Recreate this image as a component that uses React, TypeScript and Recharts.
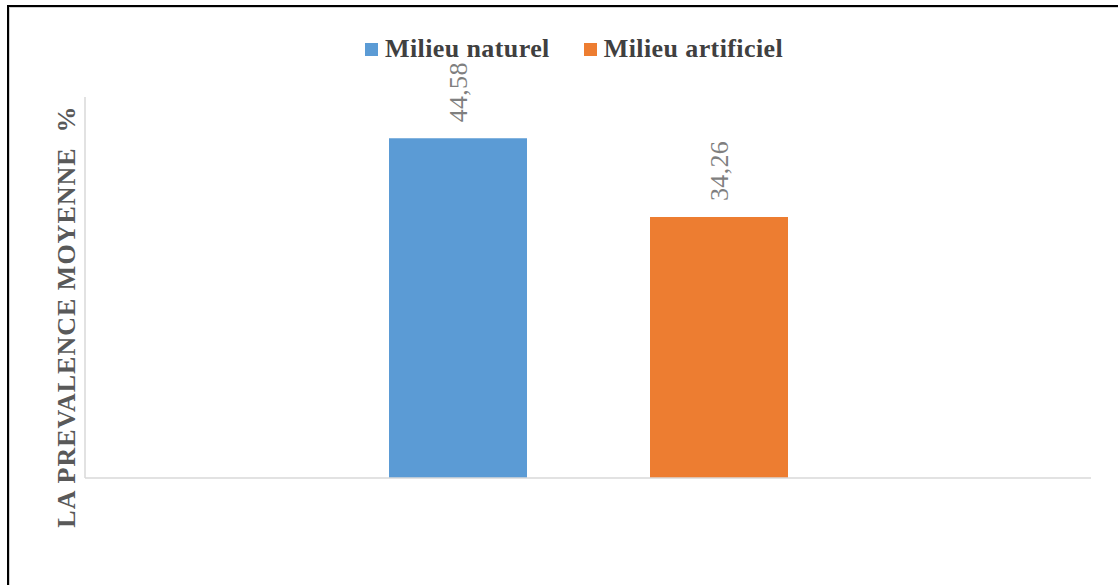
import React from 'react';
import { BarChart, Bar, XAxis, YAxis, LabelList } from 'recharts';

const categories = ['Prévalence moyenne'];
const seriesNames = ['Milieu naturel', 'Milieu artificiel'];
const seriesColors = ['#5b9bd5', '#ed7d31'];
const naturelValues = [44.58];
const artificielValues = [34.26];
const yDomain: [number, number] = [0, 50];

const SERIF = '"Liberation Serif", "Times New Roman", serif';
const GRID = '#d9d9d9';

const data = categories.map((c, i) => ({
  categorie: c,
  naturel: naturelValues[i],
  artificiel: artificielValues[i],
}));

const fmt = (v: number) => v.toFixed(2).replace('.', ',');

// vertical value label sitting above each bar, reading bottom-to-top
function renderValueLabel(props: any) {
  const { x, y, width, value } = props;
  const tx = Number(x) + Number(width) / 2 + 9;
  const ty = Number(y) - 16;
  return (
    <text
      x={tx}
      y={ty}
      transform={`rotate(-90, ${tx}, ${ty})`}
      textAnchor="start"
      style={{ fontFamily: SERIF, fontSize: 26, letterSpacing: 0.3 }}
      fill="#7f7f7f"
    >
      {fmt(Number(value))}
    </text>
  );
}

function renderYTitle(props: any) {
  const { viewBox } = props;
  const tx = viewBox.x + viewBox.width - 10;
  const ty = viewBox.y + viewBox.height / 2 + 29;
  return (
    <text
      x={tx}
      y={ty}
      transform={`rotate(-90, ${tx}, ${ty})`}
      textAnchor="middle"
      fill="#595959"
      style={{
        fontFamily: SERIF,
        fontWeight: 'bold',
        fontSize: 26,
        letterSpacing: 1,
        whiteSpace: 'pre',
      }}
    >
      {'LA PREVALENCE MOYENNE  %'}
    </text>
  );
}

export default function App() {
  return (
    <div
      style={{
        position: 'fixed',
        left: 0,
        top: 0,
        width: 1118,
        height: 585,
        background: '#fff',
        overflow: 'hidden',
        fontFamily: SERIF,
      }}
    >
      {/* outer frame, only top and left edges fall inside the view */}
      <div
        style={{
          position: 'absolute',
          left: 7,
          top: 5,
          width: 1300,
          height: 800,
          borderLeft: '2px solid #000',
          borderTop: '2px solid #000',
          boxShadow: 'inset 1px 1px 0 #d0d0d0',
        }}
      />

      <div
        style={{
          position: 'absolute',
          top: 34,
          left: 365,
          display: 'flex',
          alignItems: 'center',
          fontFamily: SERIF,
          fontWeight: 'bold',
          fontSize: 26,
          letterSpacing: 0.4,
          color: '#404040',
          whiteSpace: 'nowrap',
        }}
      >
        {seriesNames.map((name, i) => (
          <span
            key={name}
            style={{ display: 'flex', alignItems: 'center', marginRight: i === 0 ? 34 : 0 }}
          >
            <span
              style={{
                display: 'inline-block',
                width: 13,
                height: 13,
                background: seriesColors[i],
                marginRight: 7,
              }}
            />
            {name}
          </span>
        ))}
      </div>

      <div style={{ position: 'absolute', left: 0, top: 0 }}>
        <BarChart
          width={1118}
          height={585}
          data={data}
          margin={{ top: 97, right: 27, bottom: 77, left: 0 }}
          barSize={138}
          barGap={123}
        >
          <XAxis
            dataKey="categorie"
            tick={false}
            tickLine={false}
            axisLine={{ stroke: GRID, strokeWidth: 1.5 }}
            height={30}
          />
          <YAxis
            yAxisId="left"
            domain={yDomain}
            width={85}
            tick={false}
            tickLine={false}
            axisLine={{ stroke: GRID, strokeWidth: 1.5 }}
            label={renderYTitle}
          />
          <YAxis
            yAxisId="right"
            orientation="right"
            domain={yDomain}
            width={0}
            tick={false}
            tickLine={false}
            axisLine={{ stroke: GRID, strokeWidth: 1.5 }}
          />
          <Bar
            yAxisId="left"
            dataKey="naturel"
            name={seriesNames[0]}
            fill={seriesColors[0]}
            isAnimationActive={false}
          >
            <LabelList dataKey="naturel" content={renderValueLabel} />
          </Bar>
          <Bar
            yAxisId="left"
            dataKey="artificiel"
            name={seriesNames[1]}
            fill={seriesColors[1]}
            isAnimationActive={false}
          >
            <LabelList dataKey="artificiel" content={renderValueLabel} />
          </Bar>
        </BarChart>
      </div>
    </div>
  );
}
